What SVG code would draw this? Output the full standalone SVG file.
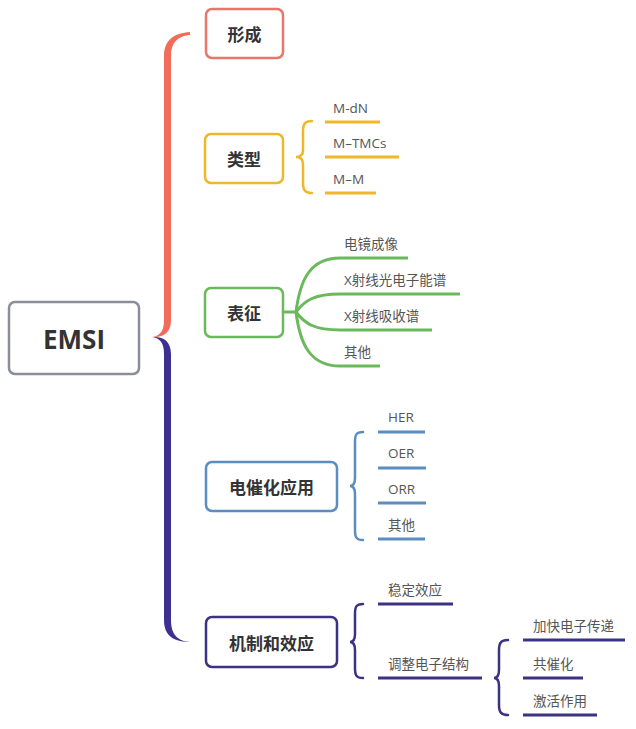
<svg xmlns="http://www.w3.org/2000/svg" width="636" height="729" viewBox="0 0 636 729">
<style>
.box{fill:#fff;stroke-width:2.5}
.t{font-family:"Noto Sans CJK SC","Open Sans",sans-serif;font-weight:bold;font-size:17px;fill:#333;text-anchor:middle;dominant-baseline:central}
.it{font-family:"Open Sans","Noto Sans CJK SC",sans-serif;font-size:13.5px;fill:#555}
.ln{fill:none;stroke-width:3}
.br{fill:none;stroke-width:2.5;stroke-linecap:round}
.y{stroke:#efb72a}.g{stroke:#6bb95c}.b{stroke:#5c8dc0}.p{stroke:#3b3282}
</style>
<rect width="636" height="729" fill="#fff"/>
<g id="connectors">
  <path d="M190,32 C174,33 164,40 164,56 V320 C164,331 160,336 152,337 C163,338 171,333 171,320 V56 C171,42 178,36 190,35 Z" fill="#f36c5a"/>
  <path d="M152,337 C160,338 164,343 164,354 V620 C164,636 174,642 190,642 C178,641 171,635 171,620 V354 C171,341 163,336 152,337 Z" fill="#3d3092"/>
  <path class="br y" d="M312,121 C305,121 303,124 303,131 V150 C303,155 300,157 296,157 C300,157 303,159 303,164 V183 C303,190 305,193 312,193"/>
  <path class="ln g" d="M283,312 H296"/>
  <path class="ln g" d="M296,312 C300,280 310,258 340,258 H408"/>
  <path class="ln g" d="M296,312 C305,300 315,294 340,294 H460"/>
  <path class="ln g" d="M296,312 C305,324 315,330 340,330 H432"/>
  <path class="ln g" d="M296,312 C300,344 310,366 340,366 H380"/>
  <path class="br b" d="M363,432 C356,432 355,435 355,442 V478 C355,483 353,486 350,486 C353,486 355,489 355,494 V530 C355,537 356,540 363,540"/>
  <path class="br p" d="M363,604 C356,604 355,607 355,614 V634 C355,639 353,642 350,642 C353,642 355,645 355,650 V668 C355,675 356,678 363,678"/>
  <path class="br p" d="M508,640 C501,640 499,643 499,650 V670 C499,675 497,678 494,678 C497,678 499,681 499,686 V705 C499,712 501,715 508,715"/>
  <path class="ln y" d="M325,122 H380 M325,157 H399 M325,193 H376"/>
  <path class="ln b" d="M378,432 H425 M378,468 H426 M378,503 H426 M378,539 H425"/>
  <path class="ln p" d="M378,604 H453 M378,678 H482 M523,640 H625 M523,678 H583 M523,715 H597"/>
</g>
<g id="emsi"><rect class="box" x="9" y="302" width="130" height="72" rx="6" stroke="#8b8e99"/><text x="74" y="339" font-family="'Open Sans',sans-serif" font-weight="bold" font-size="26" fill="#333" text-anchor="middle" dominant-baseline="central">EMSI</text></g>
<g id="n-xingcheng"><rect class="box" x="206" y="9" width="77" height="49" rx="6" stroke="#e8766a"/><text class="t" x="244.5" y="33.5">形成</text></g>
<g id="n-leixing"><rect class="box" x="205" y="134" width="78" height="49" rx="6" stroke="#efb72a"/><text class="t" x="244" y="158.5">类型</text></g>
<g id="n-biaozheng"><rect class="box" x="205" y="288" width="78" height="49" rx="6" stroke="#6bb95c"/><text class="t" x="244" y="312.5">表征</text></g>
<g id="n-dianchuihua"><rect class="box" x="206" y="462" width="131" height="49" rx="6" stroke="#5c8dc0"/><text class="t" x="271.5" y="486.5">电催化应用</text></g>
<g id="n-jizhi"><rect class="box" x="206" y="617" width="131" height="50" rx="6" stroke="#3b3282"/><text class="t" x="271.5" y="642">机制和效应</text></g>
<g id="leaves-leixing"><text class="it" x="333" y="113">M-dN</text><text class="it" x="333" y="148">M–TMCs</text><text class="it" x="333" y="184">M–M</text></g>
<g id="leaves-biaozheng"><text class="it" x="344" y="249">电镜成像</text><text class="it" x="344" y="285">X射线光电子能谱</text><text class="it" x="344" y="321">X射线吸收谱</text><text class="it" x="344" y="357">其他</text></g>
<g id="leaves-dianchuihua"><text class="it" x="388" y="422">HER</text><text class="it" x="388" y="458">OER</text><text class="it" x="388" y="494">ORR</text><text class="it" x="388" y="530">其他</text></g>
<g id="leaves-jizhi"><text class="it" x="388" y="595">稳定效应</text><text class="it" x="388" y="669">调整电子结构</text></g>
<g id="leaves-tiaozheng"><text class="it" x="533" y="631">加快电子传递</text><text class="it" x="533" y="669">共催化</text><text class="it" x="533" y="706">激活作用</text></g>
</svg>
